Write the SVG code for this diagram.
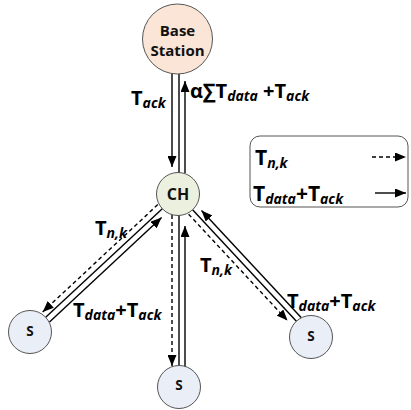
<svg xmlns="http://www.w3.org/2000/svg" width="411" height="410" viewBox="0 0 411 410">
<style>
.node{stroke:#555;stroke-width:1}
.ln{stroke:#000;stroke-width:1.4;fill:none}
.dash{stroke-dasharray:4 3}
.nt{font-family:"Open Sans","Noto Sans",sans-serif;font-weight:700;fill:#111;text-anchor:middle}
.lbl{font-family:"Open Sans","Noto Sans",sans-serif;font-weight:700;font-size:20px;fill:#000}
.lg{font-size:21px}
.sub{font-size:14px;font-style:italic}
</style>
<defs>
<marker id="ah" markerUnits="userSpaceOnUse" markerWidth="11" markerHeight="9" refX="11" refY="4.5" orient="auto">
<path d="M0,0 L11,4.5 L0,9 z" fill="#000"/>
</marker>
</defs>
<g id="connectors">
<line class="ln" x1="172" y1="74" x2="172" y2="167" marker-end="url(#ah)"/>
<line class="ln" x1="179" y1="74" x2="179" y2="173"/>
<line class="ln" x1="185" y1="173" x2="185" y2="81" marker-end="url(#ah)"/>
<line class="ln dash" x1="172" y1="215" x2="172" y2="366" marker-end="url(#ah)"/>
<line class="ln" x1="179" y1="215" x2="179" y2="366"/>
<line class="ln" x1="185" y1="367" x2="185" y2="226" marker-end="url(#ah)"/>
<line class="ln dash" x1="157.8" y1="204.6" x2="42.7" y2="311.9" marker-end="url(#ah)"/>
<line class="ln" x1="162.3" y1="208.7" x2="45.7" y2="317.3"/>
<line class="ln" x1="49.5" y1="322.1" x2="161.6" y2="217.5" marker-end="url(#ah)"/>
<line class="ln dash" x1="188.6" y1="214.2" x2="287.5" y2="320.6" marker-end="url(#ah)"/>
<line class="ln" x1="192.6" y1="209.7" x2="296.4" y2="321.3"/>
<line class="ln" x1="301.1" y1="317.5" x2="201.5" y2="210.4" marker-end="url(#ah)"/>
</g>
<g id="base">
<circle class="node" cx="177.5" cy="39" r="35" fill="#FBE5D6"/>
<text class="nt" x="177.5" y="36" font-size="15">Base</text>
<text class="nt" x="177.5" y="56" font-size="15">Station</text>
</g>
<g id="ch">
<circle class="node" cx="178" cy="194" r="21.5" fill="#EBF1DE"/>
<text class="nt" x="178" y="199.5" font-size="16">CH</text>
</g>
<g id="s-left">
<circle class="node" cx="30" cy="332" r="21.5" fill="#EAEFF7"/>
<text class="nt" x="30" y="336" font-size="13.5">S</text>
</g>
<g id="s-bottom">
<circle class="node" cx="179" cy="387" r="21.5" fill="#EAEFF7"/>
<text class="nt" x="179" y="390" font-size="13.5">S</text>
</g>
<g id="s-right">
<circle class="node" cx="311" cy="337" r="21.5" fill="#EAEFF7"/>
<text class="nt" x="311" y="341" font-size="13.5">S</text>
</g>
<g id="legend">
<rect x="250" y="136" width="158" height="71" rx="10" fill="#fff" stroke="#555" stroke-width="1"/>
<text class="lbl lg" x="255" y="165">T<tspan class="sub" dy="3">n,k</tspan></text>
<text class="lbl lg" x="253" y="201">T<tspan class="sub" dy="3">data</tspan><tspan dy="-3">+T</tspan><tspan class="sub" dy="3">ack</tspan></text>
<line class="ln dash" x1="372" y1="157" x2="406" y2="157" marker-end="url(#ah)"/>
<line class="ln" x1="375" y1="193" x2="406" y2="193" marker-end="url(#ah)"/>
</g>
<g id="labels">
<text class="lbl" x="131" y="105">T<tspan class="sub" dy="3">ack</tspan></text>
<text class="lbl" x="190" y="98">α∑T<tspan class="sub" dy="3">data</tspan><tspan dy="-3"> +T</tspan><tspan class="sub" dy="3">ack</tspan></text>
<text class="lbl" x="95" y="235">T<tspan class="sub" dy="3">n,k</tspan></text>
<text class="lbl" x="73" y="317">T<tspan class="sub" dy="3">data</tspan><tspan dy="-3">+T</tspan><tspan class="sub" dy="3">ack</tspan></text>
<text class="lbl" x="200" y="272">T<tspan class="sub" dy="3">n,k</tspan></text>
<text class="lbl" x="287" y="308">T<tspan class="sub" dy="3">data</tspan><tspan dy="-3">+T</tspan><tspan class="sub" dy="3">ack</tspan></text>
</g>
</svg>
